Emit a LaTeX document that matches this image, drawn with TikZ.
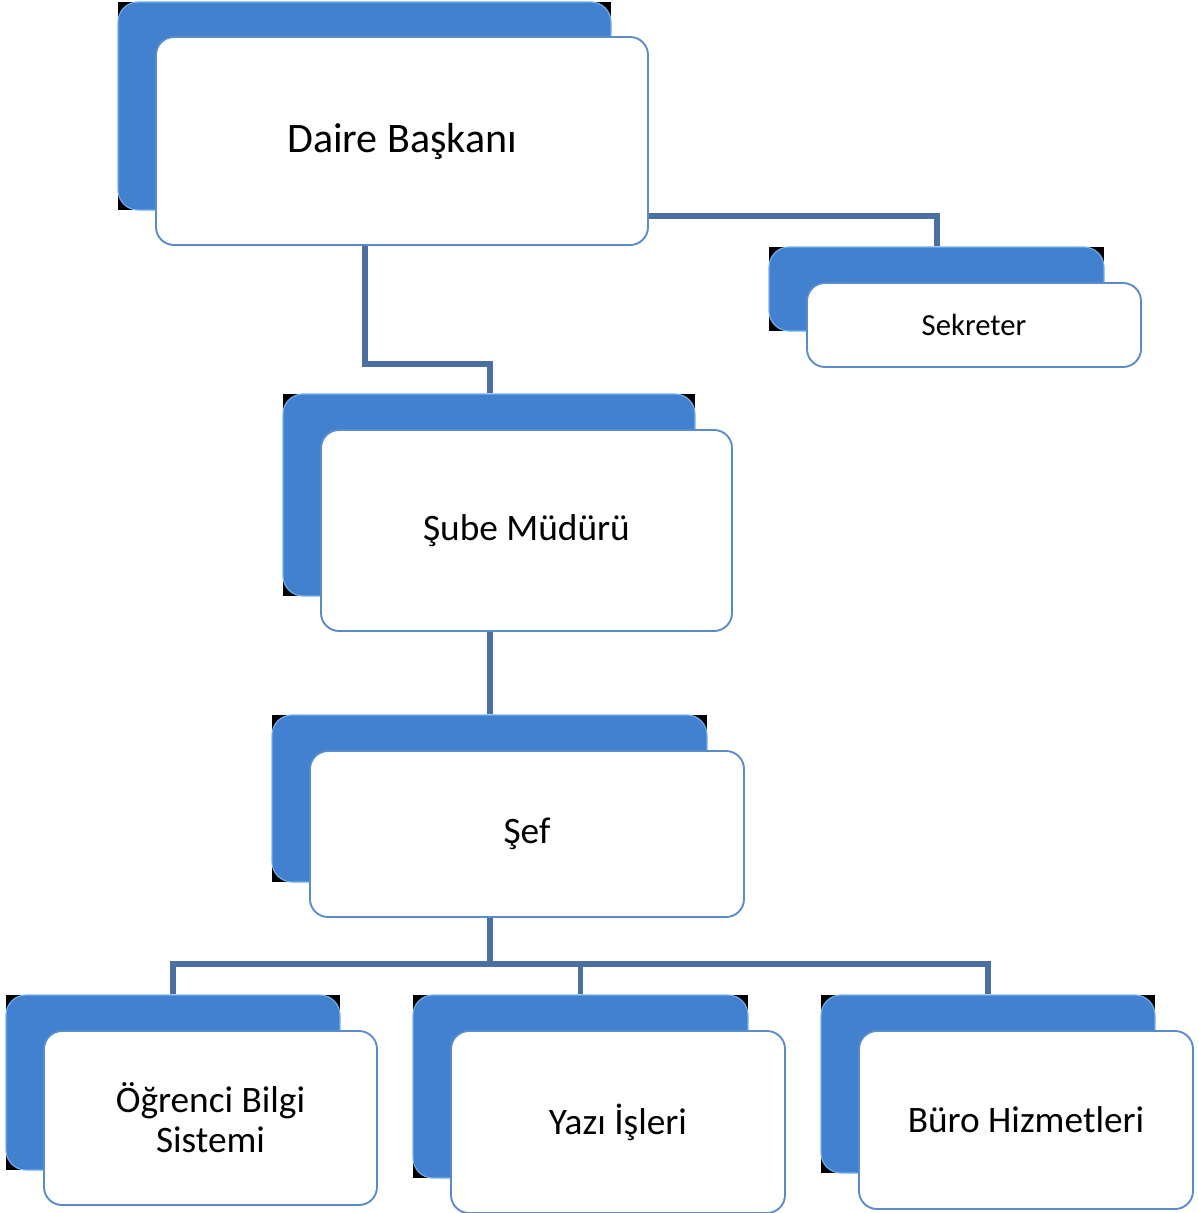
\documentclass[tikz,border=0pt]{standalone}
\usepackage{fontspec}
\setmainfont{Carlito}
\definecolor{boxblue}{HTML}{4181D0}
\definecolor{hiblue}{HTML}{78B2F0}
\definecolor{edgeblue}{HTML}{5B8BC9}
\definecolor{connblue}{HTML}{4A6FA0}
\begin{document}
\begin{tikzpicture}[x=0.75pt,y=-0.75pt,
  backbox/.style={fill=boxblue, rounded corners=15pt, inner sep=0pt, draw=hiblue, line width=0.8pt},
  blackbox/.style={fill=black, inner sep=0pt},
  frontbox/.style={draw=edgeblue, fill=white, line width=1.4pt, rounded corners=13.5pt, inner sep=0pt, align=center},
  connline/.style={draw=connblue, line width=4pt},
  bigtext/.style={font=\fontsize{31.5}{36}\selectfont},
  midtext/.style={font=\fontsize{28}{30}\selectfont},
  smalltext/.style={font=\fontsize{23}{26}\selectfont}]
\useasboundingbox (0,0) rectangle (1198,1213);
\fill[white] (0,0) rectangle (1198,1213);

% back boxes
\newcommand{\backpair}[4]{%
  \node[blackbox, minimum width=#3, minimum height=#4] at (#2) {};
  \node[backbox, minimum width=#3, minimum height=#4] (#1) at (#2) {};}
\backpair{daireb}{364.5,106}{369.75pt}{156pt}
\backpair{sekb}{936.5,289}{251.25pt}{63pt}
\backpair{subeb}{489,495}{309pt}{151.5pt}
\backpair{sefb}{489.5,798.5}{326.25pt}{125.25pt}
\backpair{ogrb}{173,1082.5}{250.5pt}{131.25pt}
\backpair{yazib}{580.5,1086.5}{251.25pt}{137.25pt}
\backpair{burob}{988,1084}{250.5pt}{133.5pt}

% connectors
\coordinate (j1) at (937,216);
\coordinate (j2) at (365,364);
\coordinate (j3) at (490,364);
\coordinate (bus) at (490,964);

% front boxes
\node[frontbox, bigtext, minimum width=369pt, minimum height=156pt] (daire) at (402,141) {Daire Başkanı};
\node[frontbox, smalltext, minimum width=250.5pt, minimum height=63pt] (sek) at (974,325) {Sekreter};
\node[frontbox, midtext, minimum width=308.25pt, minimum height=150.75pt] (sube) at (526.5,530.5) {Şube Müdürü};
\node[frontbox, midtext, minimum width=325.5pt, minimum height=124.5pt] (sef) at (527,834) {Şef};
\node[frontbox, midtext, minimum width=249.75pt, minimum height=130.5pt] (ogr) at (210.5,1118) {Öğrenci Bilgi\\Sistemi};
\node[frontbox, midtext, minimum width=250.5pt, minimum height=136.5pt] (yazi) at (618,1122) {Yazı İşleri};
\node[frontbox, midtext, minimum width=250.5pt, minimum height=133.5pt] (buro) at (1026,1120) {Büro Hizmetleri};

\begin{scope}[on background layer/.try]
\end{scope}
\draw[connline] (daire.east |- j1) -- (j1) -- (j1 |- sekb.north);
\draw[connline] (j2 |- daire.south) -- (j2) -- (j3) -- (j3 |- subeb.north);
\draw[connline] (sube.south -| j3) -- (j3 |- sefb.north);
\draw[connline] (sef.south -| bus) -- (bus);
\draw[connline] (ogrb.north) -- (ogrb.north |- bus) -- (burob.north |- bus) -- (burob.north);
\draw[connline] (yazib.north |- bus) -- (yazib.north);
\end{tikzpicture}
\end{document}
